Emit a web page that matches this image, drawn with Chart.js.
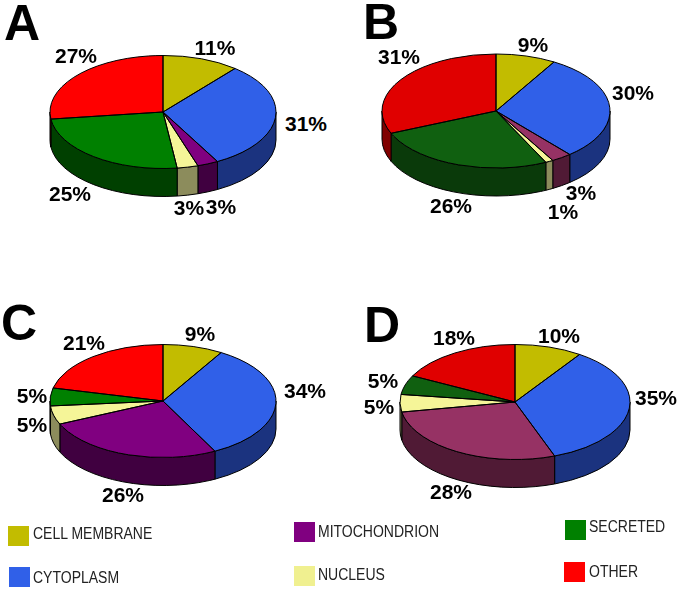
<!DOCTYPE html>
<html>
<head>
<meta charset="utf-8">
<script src="https://cdn.jsdelivr.net/npm/chart.js@4"></script>
<style>
  html, body { margin: 0; padding: 0; background: #fff; overflow: hidden; }
  #page { position: relative; width: 682px; height: 590px; font-family: "Liberation Sans", sans-serif; }
  canvas { position: absolute; }
  .pct, .letter, .lg { position: absolute; white-space: nowrap; color: #000; transform: translate(-50%, -50%); }
  .pct { font-size: 21px; font-weight: bold; }
  .letter { font-size: 50px; font-weight: bold; }
  .lg { font-size: 16px; color: #222; transform-origin: 0 50%; transform: translate(0, -50%) scaleX(0.875); }
  .sw { position: absolute; width: 21px; height: 20px; }
</style>
</head>
<body>
<div id="page"></div>
<script>
// membrane, cytoplasm, mitochondrion, nucleus, secreted, other
const categories = ['CELL MEMBRANE', 'CYTOPLASM', 'MITOCHONDRION', 'NUCLEUS', 'SECRETED', 'OTHER'];
const panelNames = ['A', 'B', 'C', 'D'];
// the printed labels are these rounded
const valuesA = [11, 31, 3, 3, 25, 27];
const valuesB = [8.5, 30.3, 2.9, 1.1, 25.8, 31.4];
const valuesC = [8.6, 33.8, 25.9, 5.3, 5.1, 21.3];
const valuesD = [9.5, 34.9, 27.8, 4.9, 5.4, 17.5];

// colours: A and C are the plain set, B and D have the muted set
const topPlain = ['#c2bc00', '#3060e8', '#800080', '#f5f598', '#008000', '#ff0000'];
const sidePlain = ['#6a6600', '#1b337f', '#400040', '#8c8c5c', '#004000', '#800000'];
const topMuted = ['#c2bc00', '#3060e8', '#963264', '#f5f598', '#106010', '#e00000'];
const sideMuted = ['#6a6600', '#1b337f', '#501a35', '#8c8c5c', '#0a3a0a', '#800000'];
const legendColors = ['#c2bc00', '#3060e8', '#800080', '#f0f090', '#008000', '#ff0000'];

// layout of the four pies and everything around them
const pies = [
  { values: valuesA, top: topPlain, side: sidePlain, cx: 163, cy: 112, r: 113, letter: [22, 23],
    labels: [[215, 48], [306, 124], [221, 207], [189, 208], [70, 194], [76, 56]] },
  { values: valuesB, top: topMuted, side: sideMuted, cx: 496, cy: 111, r: 114, letter: [381, 22],
    labels: [[533, 45], [633, 93], [581, 193], [563, 212], [451, 206], [399, 57]] },
  { values: valuesC, top: topPlain, side: sidePlain, cx: 163, cy: 401, r: 113, letter: [19, 323],
    labels: [[200, 334], [305, 391], [123, 495], [32, 425], [32, 396], [84, 343]] },
  { values: valuesD, top: topMuted, side: sideMuted, cx: 515, cy: 402, r: 115, letter: [382, 325],
    labels: [[559, 336], [656, 398], [451, 492], [379, 407], [383, 381], [454, 338]] }
];
const legendPos = [[8, 526, 33, 534], [9, 567, 33, 578], [294, 522, 318, 532], [294, 566, 318, 575], [565, 520, 589, 527], [564, 562, 589, 572]];

const SQUASH = 0.5;
const DEPTH = 28;

const page = document.getElementById('page');

function addText(cls, text, x, y) {
  const d = document.createElement('div');
  d.className = cls;
  d.textContent = text;
  d.style.left = x + 'px';
  d.style.top = y + 'px';
  page.appendChild(d);
}

// tilts the pie and adds the side wall, angles come from the arc elements
const tiltPlugin = {
  id: 'tilt',
  beforeDatasetsDraw(chart, args, opts) {
    const ctx = chart.ctx;
    const arcs = chart.getDatasetMeta(0).data;
    arcs.forEach((arc, i) => {
      const a = Math.max(arc.startAngle, 0);
      const b = Math.min(arc.endAngle, Math.PI);
      if (b <= a) return;
      ctx.beginPath();
      ctx.ellipse(arc.x, arc.y, arc.outerRadius, arc.outerRadius * SQUASH, 0, a, b);
      ctx.ellipse(arc.x, arc.y + DEPTH, arc.outerRadius, arc.outerRadius * SQUASH, 0, b, a, true);
      ctx.closePath();
      ctx.fillStyle = opts.side[i];
      ctx.fill();
      ctx.strokeStyle = '#000';
      ctx.lineWidth = 1;
      ctx.stroke();
    });
    const c = arcs[0];
    ctx.save();
    ctx.translate(c.x, c.y);
    ctx.scale(1, SQUASH);
    ctx.translate(-c.x, -c.y);
  },
  afterDatasetsDraw(chart) {
    const ctx = chart.ctx;
    ctx.restore();
    chart.getDatasetMeta(0).data.forEach(arc => {
      ctx.beginPath();
      ctx.moveTo(arc.x, arc.y);
      ctx.ellipse(arc.x, arc.y, arc.outerRadius, arc.outerRadius * SQUASH, 0, arc.startAngle, arc.endAngle);
      ctx.closePath();
      ctx.strokeStyle = '#000';
      ctx.lineWidth = 1;
      ctx.stroke();
    });
  }
};

pies.forEach((p, n) => {
  const pad = 7;
  const size = 2 * (p.r + pad);
  const canvas = document.createElement('canvas');
  canvas.width = size;
  canvas.height = size;
  canvas.style.left = (p.cx - size / 2) + 'px';
  canvas.style.top = (p.cy - size / 2) + 'px';
  page.appendChild(canvas);
  new Chart(canvas.getContext('2d'), {
    type: 'pie',
    data: {
      labels: categories,
      datasets: [{ data: p.values, backgroundColor: p.top, borderWidth: 0, clip: false }]
    },
    options: {
      responsive: false,
      animation: false,
      layout: { padding: pad },
      plugins: {
        legend: { display: false },
        tooltip: { enabled: false },
        tilt: { side: p.side }
      }
    },
    plugins: [tiltPlugin]
  });
  addText('letter', panelNames[n], p.letter[0], p.letter[1]);
  p.values.forEach((v, i) => addText('pct', Math.round(v) + '%', p.labels[i][0], p.labels[i][1]));
});

categories.forEach((name, i) => {
  const pos = legendPos[i];
  const sw = document.createElement('div');
  sw.className = 'sw';
  sw.style.left = pos[0] + 'px';
  sw.style.top = pos[1] + 'px';
  sw.style.background = legendColors[i];
  page.appendChild(sw);
  addText('lg', name, pos[2], pos[3]);
});
</script>
</body>
</html>
